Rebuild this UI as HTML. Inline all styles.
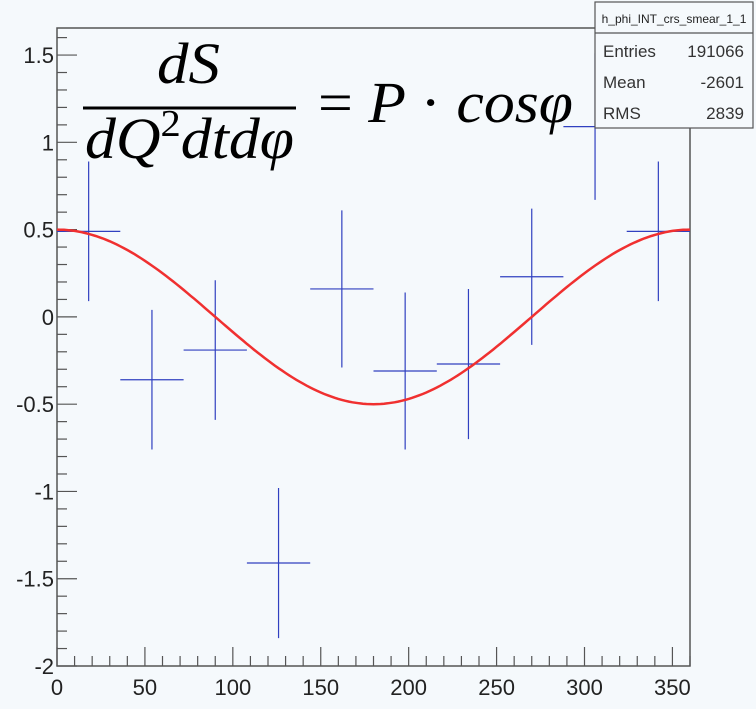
<!DOCTYPE html>
<html><head><meta charset="utf-8"><style>
body{margin:0;background:#f5f9fc;}
svg{display:block;font-family:"Liberation Sans",sans-serif;}
</style></head><body>
<svg id="c" width="756" height="709">
<rect x="0" y="0" width="756" height="709" fill="#f5f9fc"/>
<g id="axes"></g>
<g id="marks"></g>
<g font-family="'Liberation Serif',serif" font-style="italic" fill="#000">
<text x="157" y="83" font-size="58" textLength="63" lengthAdjust="spacingAndGlyphs">dS</text>
<line x1="83" y1="108" x2="296" y2="108" stroke="#000" stroke-width="3"/>
<text x="85" y="158" font-size="58" textLength="209" lengthAdjust="spacingAndGlyphs">dQ<tspan font-size="38" font-style="normal" dy="-22">2</tspan><tspan dy="22">dtdφ</tspan></text>
<text x="318" y="122" font-size="58" textLength="255" lengthAdjust="spacingAndGlyphs"><tspan font-style="normal">= </tspan>P <tspan font-style="normal">·</tspan> cosφ</text>
</g>
<g>
<rect x="595" y="2" width="158" height="126" fill="#f5f9fc" stroke="#555" stroke-width="1.2"/>
<line x1="595" y1="33" x2="753" y2="33" stroke="#555" stroke-width="1.2"/>
<text x="674" y="23" font-size="12" text-anchor="middle" fill="#222">h_phi_INT_crs_smear_1_1</text>
<text x="603" y="57" font-size="17" fill="#333">Entries</text><text x="744" y="57" font-size="17" fill="#333" text-anchor="end">191066</text>
<text x="603" y="88" font-size="17" fill="#333">Mean</text><text x="744" y="88" font-size="17" fill="#333" text-anchor="end">-2601</text>
<text x="603" y="119" font-size="17" fill="#333">RMS</text><text x="744" y="119" font-size="17" fill="#333" text-anchor="end">2839</text>
</g>
</svg>
<script>
const binCenters=[18,54,90,126,162,198,234,270,306,342];
const values=[0.49,-0.36,-0.19,-1.41,0.16,-0.31,-0.27,0.23,1.09,0.49];
const errors=[0.40,0.40,0.40,0.43,0.45,0.45,0.43,0.39,0.42,0.40];
const xTicks=[0,50,100,150,200,250,300,350];
const yTicks=[-2,-1.5,-1,-0.5,0,0.5,1,1.5];
const amp=0.5;
const L=57,R=690,T=28,B=666,xmin=0,xmax=360,ymin=-2,ymax=1.655;
const X=v=>L+(v-xmin)/(xmax-xmin)*(R-L);
const Y=v=>B-(v-ymin)/(ymax-ymin)*(B-T);
const NS='http://www.w3.org/2000/svg';
function mk(t,a,p){const e=document.createElementNS(NS,t);for(const k in a)e.setAttribute(k,a[k]);p.appendChild(e);return e;}
const ax=document.getElementById('axes'),mg=document.getElementById('marks');
const frame=mk('rect',{x:L,y:T,width:R-L,height:B-T,fill:'none',stroke:'#555','stroke-width':1.5},ax);


for(let v=0;v<=360;v+=10){const maj=v%50===0;mk('line',{x1:X(v),x2:X(v),y1:B,y2:B-(maj?19:10),stroke:'#555','stroke-width':1.2},ax);}
for(let i=-20;i<=16;i++){const v=i/10;const maj=i%5===0;mk('line',{x1:L,x2:L+(maj?20:10),y1:Y(v),y2:Y(v),stroke:'#555','stroke-width':1.2},ax);}
xTicks.forEach(v=>{const t=mk('text',{x:X(v),y:B+29,'font-size':22,'text-anchor':'middle',fill:'#222'},ax);t.textContent=v;

});
yTicks.forEach(v=>{const t=mk('text',{x:L-3,y:Y(v)+8,'font-size':22,'text-anchor':'end',fill:'#222'},ax);t.textContent=v;

});
const w=(binCenters[1]-binCenters[0])/2;
binCenters.forEach((c,i)=>{const g=mk('g',{stroke:'#3040c0','stroke-width':1.2},mg);


const y1=Math.max(Y(values[i]+errors[i]),T),y2=Math.min(Y(values[i]-errors[i]),B);
mk('line',{x1:X(c),x2:X(c),y1:y1,y2:y2},g);
const yv=Y(values[i]);if(yv>T&&yv<B)mk('line',{x1:X(c-w),x2:X(c+w),y1:yv,y2:yv},g);});
let d='';for(let p=0;p<=360;p+=2){d+=(p?'L':'M')+X(p).toFixed(1)+','+Y(amp*Math.cos(p*Math.PI/180)).toFixed(1);}
const fit=mk('path',{d:d,fill:'none',stroke:'#f03030','stroke-width':2.5},mg);


</script>
</body></html>
